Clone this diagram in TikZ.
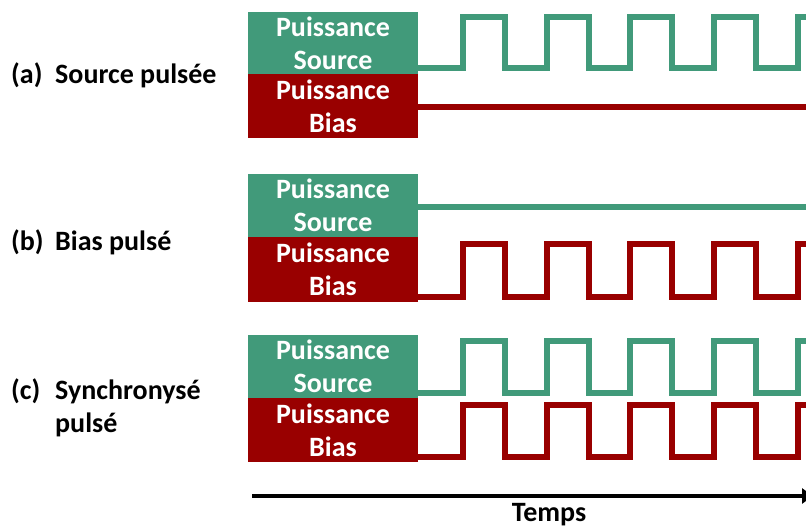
\documentclass[tikz,border=0pt]{standalone}
\usepackage{fontspec}
\setmainfont{Carlito}
\usetikzlibrary{arrows.meta}
\definecolor{srcgreen}{RGB}{65,154,122}
\definecolor{biasred}{RGB}{153,0,0}
\tikzset{
  lbl/.style={font=\fontsize{28}{33}\selectfont\bfseries, inner sep=0pt, anchor=base west},
  boxtxt/.style={font=\fontsize{28}{33}\selectfont\bfseries, text=white, align=center, inner sep=0pt},
  wave/.style={line width=6pt, line join=miter, line cap=butt},
}
\newcommand{\boxpair}[4]{% name, ytop, ymid, ybot
  \fill[srcgreen] (248,#2) rectangle (418,#3);
  \fill[biasred] (248,#3) rectangle (418,#4);
  \node[boxtxt] (#1s) at (333,{(#2+#3)/2}) {Puissance\\Source};
  \node[boxtxt] (#1b) at (333,{(#3+#4)/2}) {Puissance\\Bias};
}
\newcommand{\pulses}[3]{% color, low, high
  \draw[wave,#1] (418,#2) -- (463,#2) -- (463,#3) -- (505,#3) -- (505,#2)
    -- (546.7,#2) -- (546.7,#3) -- (588.7,#3) -- (588.7,#2)
    -- (630.4,#2) -- (630.4,#3) -- (672.4,#3) -- (672.4,#2)
    -- (714.1,#2) -- (714.1,#3) -- (756.1,#3) -- (756.1,#2)
    -- (797.8,#2) -- (797.8,#3) -- (812,#3);
}
\begin{document}
\begin{tikzpicture}[x=1pt,y=-1pt]
\useasboundingbox[fill=white] (0,0) rectangle (806,527);

% (a)
\boxpair{a}{12}{74}{138}
\pulses{srcgreen}{68}{17}
\draw[wave,biasred] (418,107) -- (812,107);
\node[lbl] (la) at (11,84) {\begin{tabular}[t]{@{}p{44pt}@{}l@{}}(a)&Source pulsée\end{tabular}};

% (b)
\boxpair{b}{174}{237}{302}
\draw[wave,srcgreen] (418,207) -- (812,207);
\pulses{biasred}{297}{244}
\node[lbl] (lb) at (11,250) {\begin{tabular}[t]{@{}p{44pt}@{}l@{}}(b)&Bias pulsé\end{tabular}};

% (c)
\boxpair{c}{335}{398}{462}
\pulses{srcgreen}{393}{340.5}
\pulses{biasred}{457}{404.5}
\node[lbl] (lc) at (11,399) {\begin{tabular}[t]{@{}p{44pt}@{}l@{}}(c)&Synchronysé\\&pulsé\end{tabular}};

% time axis
\coordinate (t0) at (252,496);
\coordinate (t1) at (813,496);
\draw[line width=4pt, -{Triangle[length=11pt,width=15pt]}] (t0) -- (t1);
\node[lbl, anchor=base] (temps) at (549,521) {Temps};
\end{tikzpicture}
\end{document}
